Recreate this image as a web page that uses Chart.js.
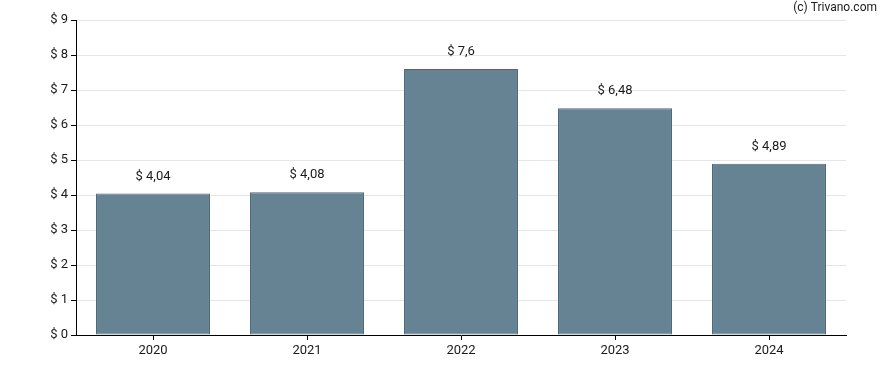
<!DOCTYPE html>
<html><head><meta charset="utf-8">
<script src="https://cdn.jsdelivr.net/npm/chart.js@4/dist/chart.umd.min.js"></script>
<style>html,body{margin:0;padding:0;background:#fff}#w{width:888px;height:370px}</style>
</head><body><div id="w"><canvas id="c" width="888" height="370"></canvas></div>
<script>
const categories = ["2020", "2021", "2022", "2023", "2024"];
const values = [4.04, 4.08, 7.6, 6.48, 4.89];
const yTicks = [0, 1, 2, 3, 4, 5, 6, 7, 8, 9];
const credit = "(c) Trivano.com";

const fmt = v => "$ " + String(v).replace(".", ",");

const labelPlugin = {
  id: "labels",
  afterDatasetsDraw(chart) {
    const ctx = chart.ctx;
    const meta = chart.getDatasetMeta(0);
    ctx.save();
    ctx.font = "13px Roboto";
    ctx.fillStyle = "#1a1a1a";
    ctx.textAlign = "center";
    ctx.textBaseline = "middle";
    meta.data.forEach((el, i) => {
      ctx.fillText(fmt(values[i]), el.x, el.y - 17);
    });
    ctx.font = "12px Roboto";
    ctx.textAlign = "right";
    ctx.fillText(credit, 877, 8);
    ctx.restore();
  }
};

new Chart(document.getElementById("c"), {
  type: "bar",
  data: {
    labels: categories,
    datasets: [{
      data: values,
      backgroundColor: "rgb(102,131,148)",
      borderColor: "rgb(74,103,122)",
      borderWidth: 1,
      borderSkipped: false,
      barPercentage: 0.74,
      categoryPercentage: 1
    }]
  },
  options: {
    responsive: false,
    animation: false,
    layout: { padding: { top: 20, right: 42, left: 0, bottom: 0 } },
    plugins: { legend: { display: false }, tooltip: { enabled: false } },
    scales: {
      x: {
        offset: true,
        grid: { offset: false, drawOnChartArea: false, color: "#000", tickLength: 5 },
        border: { color: "#000", width: 1 },
        ticks: { color: "#1a1a1a", font: { family: "Roboto", size: 13 }, padding: 3 },
        afterFit(s) { s.height = 35; }
      },
      y: {
        min: 0, max: 9,
        afterBuildTicks(s) { s.ticks = yTicks.map(v => ({ value: v })); },
        grid: { color: "#e6e6e6", tickColor: "#000", tickLength: 5 },
        border: { color: "#000", width: 1 },
        ticks: { color: "#1a1a1a", font: { family: "Roboto", size: 13 }, padding: 3, callback: v => "$ " + v },
        afterFit(s) { s.width = 76; }
      }
    }
  },
  plugins: [labelPlugin]
});
</script>
</body></html>
